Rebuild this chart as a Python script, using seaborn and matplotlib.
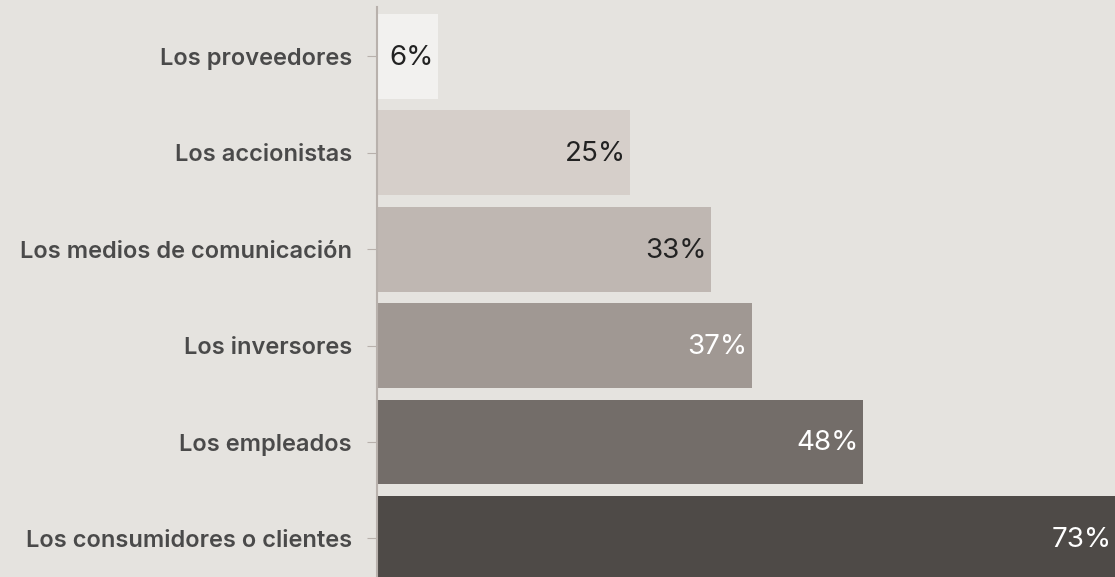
import matplotlib
matplotlib.use("Agg")
import matplotlib.pyplot as plt
import seaborn as sns
import pandas as pd

# Data
grupos = ["Los proveedores", "Los accionistas", "Los medios de comunicación",
          "Los inversores", "Los empleados", "Los consumidores o clientes"]
porcentajes = [6, 25, 33, 37, 48, 73]
colores = ["#f2f1ef", "#d6cfca", "#bfb7b2", "#a09893", "#736d69", "#4e4a47"]
colores_texto = ["#222222", "#222222", "#222222", "#ffffff", "#ffffff", "#ffffff"]

df = pd.DataFrame({"Grupo": grupos, "Porcentaje": porcentajes})

sns.set_style("white")
plt.rcParams["font.family"] = ["Inter", "DejaVu Sans"]

fondo = "#e5e3df"
fig = plt.figure(figsize=(11.15, 5.77), dpi=100)
fig.patch.set_facecolor(fondo)
ax = fig.add_axes([377 / 1115, 0, 1 - 377 / 1115, 570 / 577])
ax.set_facecolor(fondo)

sns.barplot(data=df, x="Porcentaje", y="Grupo", hue="Grupo", palette=colores,
            legend=False, width=0.88, saturation=1, linewidth=0, ax=ax)

ax.set_xlim(0, 72.9)
ax.set_ylim(5.4, -0.513)

# Value labels at bar end
for i, v in enumerate(porcentajes):
    ax.annotate(f"{v}%", xy=(v, i), xytext=(-3, -1), textcoords="offset points",
                ha="right", va="center", fontsize=20, color=colores_texto[i],
                annotation_clip=False)

for s in ["top", "right", "bottom"]:
    ax.spines[s].set_visible(False)
ax.spines["left"].set_color("#b8b1ac")
ax.spines["left"].set_linewidth(1.5)

ax.set_xticks([])
ax.tick_params(axis="y", left=True, length=7, width=0.8, color="#b8b1ac", pad=11)
for lbl in ax.get_yticklabels():
    lbl.set_fontsize(17)
    lbl.set_fontweight("semibold")
    lbl.set_color("#4a4a4a")
ax.set_xlabel("")
ax.set_ylabel("")

fig.savefig("out.png", dpi=100, facecolor=fondo)
